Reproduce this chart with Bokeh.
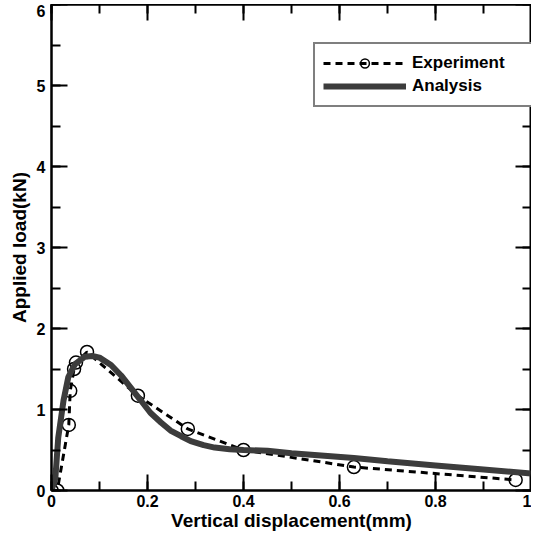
from bokeh.plotting import figure
from bokeh.models import (LinearAxis, SingleIntervalTicker, CustomJSTickFormatter,
                          Range1d, Legend, LegendItem, Spacer)
from bokeh.layouts import column, row
from bokeh.embed import file_html
from bokeh.resources import INLINE

# Experiment data (displacement mm, load kN)
exp_x = [0.0, 0.012, 0.036, 0.039, 0.047, 0.051, 0.074, 0.18, 0.284, 0.40, 0.63, 0.967]
exp_y = [0.0, 0.0, 0.81, 1.23, 1.50, 1.58, 1.71, 1.17, 0.76, 0.50, 0.29, 0.13]

# Analysis curve
ana_x = [0.0, 0.008, 0.014, 0.02, 0.025, 0.035, 0.049, 0.069, 0.085, 0.1, 0.124,
         0.145, 0.165, 0.185, 0.206, 0.228, 0.248, 0.27, 0.29, 0.317, 0.34,
         0.371, 0.4, 0.45, 0.5, 0.63, 0.7, 0.8, 0.9, 1.0]
ana_y = [0.0, 0.15, 0.65, 0.9, 1.11, 1.4, 1.56, 1.65, 1.66, 1.64, 1.55,
         1.42, 1.27, 1.12, 0.96, 0.84, 0.74, 0.67, 0.61, 0.56, 0.53,
         0.51, 0.50, 0.49, 0.46, 0.40, 0.36, 0.31, 0.26, 0.21]

x_range = (0, 1)
y_range = (0, 6)
x_tick_interval = 0.2
y_tick_interval = 1

FONT = "Liberation Sans"

p = figure(width=526, height=529, output_backend="svg", toolbar_location=None,
           x_range=Range1d(*x_range), y_range=Range1d(*y_range),
           x_axis_type=None, y_axis_type=None)
p.min_border_left = 0
p.min_border_right = 0
p.min_border_top = 0
p.min_border_bottom = 10
p.grid.visible = False
p.outline_line_color = "black"
p.outline_line_width = 2
p.background_fill_color = "white"
p.border_fill_color = "white"

fmt = CustomJSTickFormatter(code="return String(Math.round(tick*10)/10);")
blank = CustomJSTickFormatter(code="return '';")

def make_axis(interval, show_labels, title=None):
    ax = LinearAxis(ticker=SingleIntervalTicker(interval=interval, num_minor_ticks=2),
                    formatter=fmt if show_labels else blank)
    ax.axis_line_width = 2
    ax.axis_line_color = "black"
    ax.major_tick_in = 16
    ax.major_tick_out = 0
    ax.minor_tick_in = 9
    ax.minor_tick_out = 0
    ax.major_tick_line_width = 2
    ax.minor_tick_line_width = 2
    ax.major_tick_line_color = "black"
    ax.minor_tick_line_color = "black"
    if show_labels:
        ax.major_label_text_font = FONT
        ax.major_label_text_font_style = "bold"
        ax.major_label_text_font_size = "16px"
        ax.major_label_text_color = "black"
    else:
        ax.major_label_text_color = None
        ax.major_label_text_font_size = "1px"
        ax.major_label_standoff = 0
    if title:
        ax.axis_label = title
        ax.axis_label_text_font = FONT
        ax.axis_label_text_font_style = "bold"
        ax.axis_label_text_font_size = "19px"
        ax.axis_label_text_color = "black"
    return ax

xb = make_axis(x_tick_interval, True, "Vertical displacement(mm)")
xb.major_label_standoff = 4
xb.axis_label_standoff = 0
yl = make_axis(y_tick_interval, True, "Applied load(kN)")
yl.major_label_standoff = 6
yl.axis_label_standoff = 4
xt = make_axis(x_tick_interval, False)
yr = make_axis(y_tick_interval, False)

p.add_layout(xb, "below")
p.add_layout(yl, "left")
p.add_layout(xt, "above")
p.add_layout(yr, "right")

exp_line = p.line(exp_x, exp_y, line_color="black", line_width=3, line_dash="7 5")
exp_pts = p.scatter(exp_x, exp_y, marker="circle", size=13, fill_color=None,
                    line_color="black", line_width=1.5)
ana_line = p.line(ana_x, ana_y, line_color="#3c3c3c", line_width=6)

legend = Legend(items=[
    LegendItem(label="Experiment", renderers=[exp_line, exp_pts]),
    LegendItem(label="Analysis", renderers=[ana_line]),
], location=(262, 383))
legend.label_text_font = FONT
legend.label_text_font_style = "bold"
legend.label_text_font_size = "17px"
legend.label_text_color = "black"
legend.glyph_width = 83
legend.glyph_height = 22
legend.label_height = 22
legend.label_width = 116
legend.label_standoff = 6
legend.padding = 8
legend.spacing = 1
legend.margin = 0
legend.border_line_color = "black"
legend.border_line_width = 2
legend.background_fill_color = "white"
legend.background_fill_alpha = 1
p.add_layout(legend, "center")

layout = column(Spacer(width=531, height=4),
                row(Spacer(width=5, height=529), p, spacing=0),
                spacing=0)
open("out.html", "w").write(file_html(layout, INLINE))
